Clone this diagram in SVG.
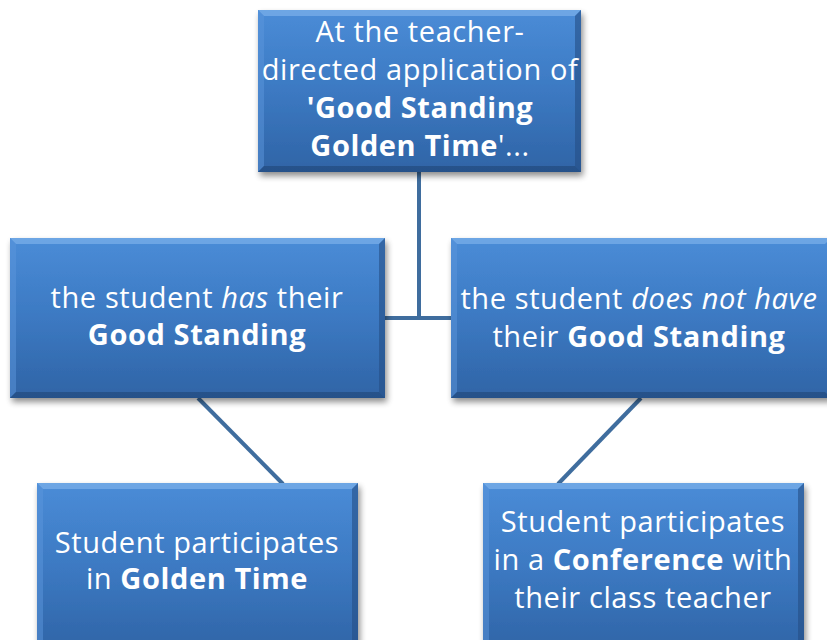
<svg xmlns="http://www.w3.org/2000/svg" width="827" height="640" viewBox="0 0 827 640">
<defs>
<linearGradient id="fill" x1="0" y1="0" x2="0" y2="1">
<stop offset="0" stop-color="#4A8CD7"/>
<stop offset="0.5" stop-color="#3C79C2"/>
<stop offset="1" stop-color="#2F64A6"/>
</linearGradient>
<filter id="sh" x="-10%" y="-10%" width="125%" height="130%">
<feGaussianBlur in="SourceAlpha" stdDeviation="3"/>
<feOffset dx="2" dy="4" result="b"/>
<feComponentTransfer><feFuncA type="linear" slope="0.45"/></feComponentTransfer>
<feMerge><feMergeNode/><feMergeNode in="SourceGraphic"/></feMerge>
</filter>
</defs>
<style>
.box{fill:url(#fill);filter:url(#sh);}
.bt{fill:#7DB0EA;opacity:0.7;}
.bl{fill:#5B96DC;opacity:0.5;}
.br{fill:#244F86;opacity:0.6;}
.bb{fill:#1F4677;opacity:0.6;}
.t{font-family:"Open Sans","Noto Sans",sans-serif;font-size:29px;letter-spacing:0.6px;fill:#FFFFFF;text-anchor:middle;}
.b{font-weight:bold;}
.i{font-style:italic;}
.c{stroke:#3F6D9E;stroke-width:4;fill:none;}
</style>
<g id="connectors">
<polyline class="c" points="419,172 419,318"/>
<line class="c" x1="385" y1="318" x2="452" y2="318"/>
<line class="c" x1="198" y1="398" x2="283" y2="484"/>
<line class="c" x1="641" y1="398" x2="558" y2="484"/>
</g>
<g id="top">
<rect class="box" x="258" y="10" width="323" height="162"/>
<polygon class="bt" points="258,10 581,10 575,16 264,16"/>
<polygon class="bl" points="258,10 264,16 264,166 258,172"/>
<polygon class="br" points="581,10 581,172 575,166 575,16"/>
<polygon class="bb" points="258,172 581,172 575,166 264,166"/>
<text class="t" x="420" y="42">At the teacher-</text>
<text class="t" x="420" y="80">directed application of</text>
<text class="t b" x="420" y="118">'Good Standing</text>
<text class="t" x="420" y="156"><tspan class="b">Golden Time</tspan>'...</text>
</g>
<g id="has">
<rect class="box" x="10" y="238" width="375" height="160"/>
<polygon class="bt" points="10,238 385,238 379,244 16,244"/>
<polygon class="bl" points="10,238 16,244 16,392 10,398"/>
<polygon class="br" points="385,238 385,398 379,392 379,244"/>
<polygon class="bb" points="10,398 385,398 379,392 16,392"/>
<text class="t" x="197" y="308">the student <tspan class="i">has</tspan> their</text>
<text class="t b" x="197" y="345">Good Standing</text>
</g>
<g id="hasnot">
<rect class="box" x="451" y="238" width="380" height="160"/>
<polygon class="bt" points="451,238 831,238 825,244 457,244"/>
<polygon class="bl" points="451,238 457,244 457,392 451,398"/>
<polygon class="bb" points="451,398 831,398 825,392 457,392"/>
<text class="t" x="639" y="309">the student <tspan class="i">does not have</tspan></text>
<text class="t" x="639" y="347">their <tspan class="b">Good Standing</tspan></text>
</g>
<g id="golden">
<rect class="box" x="37" y="483" width="321" height="170"/>
<polygon class="bt" points="37,483 358,483 352,489 43,489"/>
<polygon class="bl" points="37,483 43,489 43,653 37,653"/>
<polygon class="br" points="358,483 358,653 352,653 352,489"/>
<text class="t" x="197" y="553">Student participates</text>
<text class="t" x="197" y="589">in <tspan class="b">Golden Time</tspan></text>
</g>
<g id="conference">
<rect class="box" x="483" y="483" width="321" height="170"/>
<polygon class="bt" points="483,483 804,483 798,489 489,489"/>
<polygon class="bl" points="483,483 489,489 489,653 483,653"/>
<polygon class="br" points="804,483 804,653 798,653 798,489"/>
<text class="t" x="643" y="532">Student participates</text>
<text class="t" x="643" y="570">in a <tspan class="b">Conference</tspan> with</text>
<text class="t" x="643" y="608">their class teacher</text>
</g>
</svg>
